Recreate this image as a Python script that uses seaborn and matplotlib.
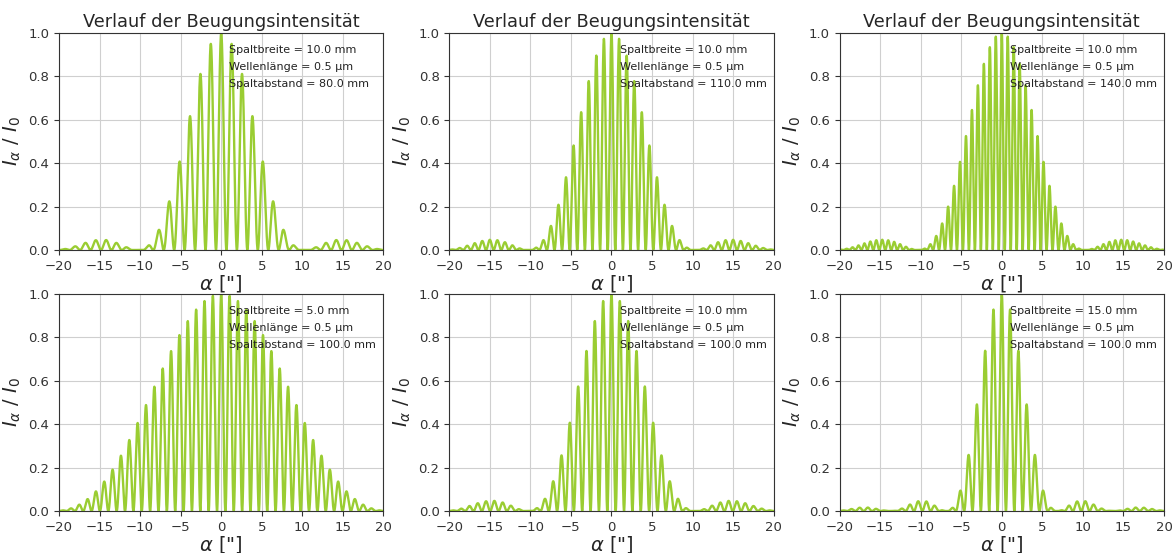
import numpy as np
import pandas as pd
import matplotlib
matplotlib.use("Agg")
import matplotlib.pyplot as plt
import seaborn as sns

# Double-slit setups: slit width [mm], wavelength [um], slit spacing [mm]
slit_width_mm = [10.0, 10.0, 10.0, 5.0, 10.0, 15.0]
wavelength_um = [0.5, 0.5, 0.5, 0.5, 0.5, 0.5]
slit_spacing_mm = [80.0, 110.0, 140.0, 100.0, 100.0, 100.0]

x_ticks = [-20, -15, -10, -5, 0, 5, 10, 15, 20]
y_ticks = [0.0, 0.2, 0.4, 0.6, 0.8, 1.0]
title = "Verlauf der Beugungsintensität"

ARCSEC = np.pi / (180 * 3600)


def intensity(alpha_arcsec, b_mm, lam_um, d_mm):
    """Normalised Fraunhofer intensity of a double slit."""
    s = np.sin(alpha_arcsec * ARCSEC)
    lam = lam_um * 1e-6
    b = b_mm * 1e-3
    d = d_mm * 1e-3
    envelope = np.sinc(b * s / lam) ** 2
    interference = np.cos(np.pi * d * s / lam) ** 2
    return envelope * interference


sns.set_style("ticks")
plt.rcParams["font.family"] = ["DejaVu Sans"]

fig, axes = plt.subplots(2, 3, figsize=(11.73, 5.53), dpi=100)
fig.subplots_adjust(left=0.0503, right=0.9923, top=0.9403, bottom=0.0759,
                    wspace=0.203, hspace=0.203)

alpha = np.linspace(-20, 20, 6001)

for i, ax in enumerate(axes.flat):
    b, lam, d = slit_width_mm[i], wavelength_um[i], slit_spacing_mm[i]
    df = pd.DataFrame({"alpha": alpha, "I": intensity(alpha, b, lam, d)})
    sns.lineplot(data=df, x="alpha", y="I", ax=ax, color="#9acd32",
                 linewidth=1.7, estimator=None, sort=False)
    ax.set_xlim(-20, 20)
    ax.set_ylim(0, 1)
    ax.set_xticks(x_ticks)
    ax.set_yticks(y_ticks)
    ax.set_xticklabels([str(t).replace("-", "\u2212") for t in x_ticks],
                       fontsize=9.5)
    ax.set_yticklabels([f"{t:.1f}" for t in y_ticks], fontsize=9.5)
    ax.grid(True, color="#cfcfcf", linewidth=0.8)
    ax.set_axisbelow(True)
    for sp in ax.spines.values():
        sp.set_visible(True)
        sp.set_color("#333333")
    ax.tick_params(colors="#333333", length=3.5)
    ax.set_xlabel('$\\alpha$ ["]', fontsize=14, labelpad=0)
    ax.set_ylabel("$I_\\alpha$ / $I_0$", fontsize=14, labelpad=4)
    if i < 3:
        ax.set_title(title, fontsize=12.8, pad=4)
    labels = [f"Spaltbreite = {b:.1f} mm",
              f"Wellenlänge = {lam} µm",
              f"Spaltabstand = {d:.1f} mm"]
    for k, txt in enumerate(labels):
        ax.text(1.0, 0.92 - 0.077 * k, txt, fontsize=8, va="center",
                ha="left", color="#222222")

fig.savefig("out.png", dpi=100)
